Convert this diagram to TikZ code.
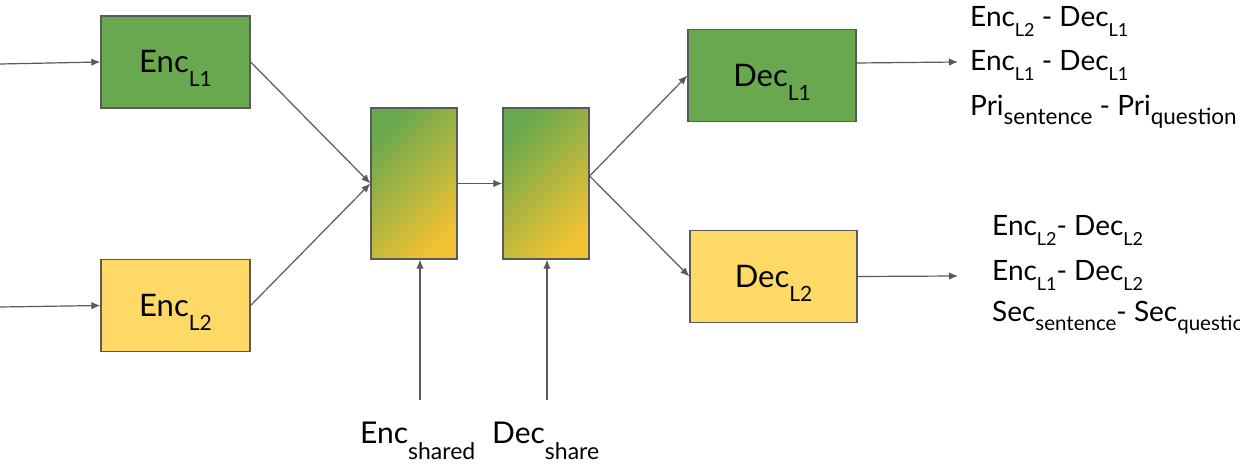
\documentclass[tikz,border=0pt]{standalone}
\usepackage{fontspec}
\setmainfont{Lato}
\usetikzlibrary{arrows.meta}
\definecolor{lgreen}{HTML}{6AA84F}
\definecolor{lyellow}{HTML}{FFD966}
\definecolor{lorange}{HTML}{F1C232}
\definecolor{edgec}{HTML}{595959}
\newcommand{\sbx}[3][13pt]{\raisebox{-#1}[0pt][0pt]{\fontsize{#2}{#2}\selectfont #3}}
\begin{document}
\begin{tikzpicture}[x=1pt,y=-1pt,
  box/.style={draw=edgec, line width=1.3pt, inner sep=0pt, font=\fontsize{31}{31}\selectfont},
  ebox/.style={box, minimum width=149pt, minimum height=92pt},
  dbox/.style={box, minimum width=168pt, minimum height=92pt},
  sbox/.style={draw=edgec, line width=1.3pt, minimum width=86pt, minimum height=151pt, inner sep=0pt,
    top color=lgreen, bottom color=lorange, shading angle=45},
  arr/.style={draw=edgec, line width=1.2pt, -{Latex[length=9pt,width=7.5pt]}},
  lab/.style={anchor=base west, inner sep=0pt, font=\fontsize{28}{28}\selectfont},
  blab/.style={anchor=base west, inner sep=0pt, font=\fontsize{30}{30}\selectfont}]
\useasboundingbox (0,0) rectangle (1240,465);
\clip (0,0) rectangle (1240,465);
% boxes
\node[ebox, fill=lgreen] (e1) at (175.5,62) {Enc\sbx[14pt]{21}{L1}};
\node[ebox, fill=lyellow] (e2) at (175.5,305.5) {Enc\sbx[14pt]{21}{L2}};
\node[sbox] (s1) at (414,183.5) {};
\node[sbox] (s2) at (546,183.5) {};
\node[dbox, fill=lgreen] (d1) at (772,75.5) {Dec\sbx[14pt]{21}{L1}};
\node[dbox, fill=lyellow, minimum width=167pt] (d2) at (773.5,276.5) {Dec\sbx[14pt]{21}{L2}};
% free ends
\coordinate (in1) at (0,64);
\coordinate (in2) at (0,307);
\coordinate (sp) at ([yshift=7.5pt]s2.east);
\coordinate (o1) at (958,62);
\coordinate (o2) at (958,276);
\coordinate (b1) at (420,400);
\coordinate (b2) at (547,400);
% connectors
\draw[arr] (in1) -- (e1.west);
\draw[arr] (in2) -- (e2.west);
\draw[arr] (e1.east) -- (s1.west);
\draw[arr] (e2.east) -- (s1.west);
\draw[arr] (s1.east) -- (s2.west);
\draw[arr] (sp) -- (d1.west);
\draw[arr] (sp) -- (d2.west);
\draw[arr] ([yshift=12.5pt]d1.east) -- (o1);
\draw[arr] (d2.east) -- (o2);
\draw[arr] (b1) -- (b1 |- s1.south);
\draw[arr] (b2) -- (b2 |- s2.south);
% labels
\node[blab] (lenc) at (360,443) {Enc\sbx[16pt]{23}{shared}};
\node[blab] (ldec) at (492,443) {Dec\sbx[16pt]{23}{share}};
\node[lab] (r1) at (970,27) {Enc\sbx[10pt]{18}{L2} - Dec\sbx[10pt]{18}{L1}};
\node[lab] (r2) at (970,71) {Enc\sbx[10pt]{18}{L1} - Dec\sbx[10pt]{18}{L1}};
\node[lab] (r3) at (970,116) {Pri\sbx[9pt]{22.5}{sentence} - Pri\sbx[9pt]{22.5}{question}};
\node[lab] (r4) at (992,236) {Enc\sbx[10pt]{18}{L2}- Dec\sbx[10pt]{18}{L2}};
\node[lab] (r5) at (992,280) {Enc\sbx[10pt]{18}{L1}- Dec\sbx[10pt]{18}{L2}};
\node[lab] (r6) at (992,321) {Sec\sbx[9pt]{20.5}{sentence}- Sec\sbx[9pt]{20.5}{question}};
\end{tikzpicture}
\end{document}
